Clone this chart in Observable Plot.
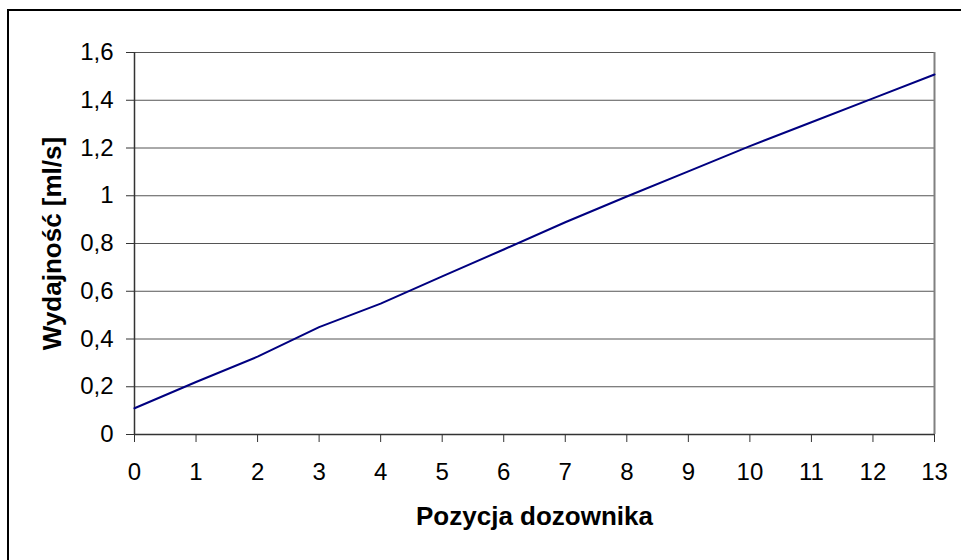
<!DOCTYPE html>
<html>
<head>
<meta charset="utf-8">
<script src="https://cdn.jsdelivr.net/npm/d3@7"></script>
<script src="https://cdn.jsdelivr.net/npm/@observablehq/plot@0.6"></script>
<style>
  html, body { margin: 0; padding: 0; background: #fff; }
</style>
</head>
<body>
<div id="chart"></div>
<script>
const positions = [0, 1, 2, 3, 4, 5, 6, 7, 8, 9, 10, 11, 12, 13];
const flowRates = [0.11, 0.22, 0.326, 0.45, 0.548, 0.662, 0.775, 0.889, 0.997, 1.102, 1.208, 1.308, 1.408, 1.508];
const yTicks = [0, 0.2, 0.4, 0.6, 0.8, 1, 1.2, 1.4, 1.6];
const xTicks = [0, 1, 2, 3, 4, 5, 6, 7, 8, 9, 10, 11, 12, 13];
const xTitle = "Pozycja dozownika";
const yTitle = "Wydajność [ml/s]";

const data = positions.map((p, i) => ({x: p, y: flowRates[i]}));
const fmt = d => String(d).replace(".", ",");

const chart = Plot.plot({
  width: 961,
  height: 560,
  marginLeft: 134,
  marginRight: 27,
  marginTop: 52,
  marginBottom: 126,
  style: {fontFamily: "'Liberation Sans', Arial, sans-serif", background: "#fff", color: "#000"},
  x: {domain: [0, 13]},
  y: {domain: [0, 1.6]},
  marks: [
    Plot.ruleY(yTicks.filter(d => d > 0), {stroke: "#555", strokeWidth: 1}),
    Plot.ruleX([13], {stroke: "#808080", strokeWidth: 2}),
    Plot.ruleX([0], {stroke: "#333", strokeWidth: 1.5}),
    Plot.ruleY([0], {stroke: "#333", strokeWidth: 1.5}),
    Plot.axisY({ticks: yTicks, tickFormat: fmt, tickSize: 8, tickPadding: 13, fontSize: 24, stroke: "#333", fill: "#000", label: null}),
    Plot.axisX({ticks: xTicks, tickFormat: fmt, tickSize: 8, tickPadding: 20, fontSize: 24, stroke: "#333", fill: "#000", label: null}),
    Plot.line(data, {x: "x", y: "y", stroke: "#000080", strokeWidth: 2}),
    Plot.text([xTitle], {frameAnchor: "bottom", dy: 82, lineAnchor: "middle", textAnchor: "middle", fontWeight: "bold", fontSize: 26, fill: "#000"}),
    Plot.text([yTitle], {frameAnchor: "left", dx: -82, rotate: -90, lineAnchor: "middle", textAnchor: "middle", fontWeight: "bold", fontSize: 26, fill: "#000"})
  ]
});

d3.select(chart).append("rect")
  .attr("x", 8).attr("y", 10)
  .attr("width", 980).attr("height", 600)
  .attr("fill", "none").attr("stroke", "#000").attr("stroke-width", 2);

document.getElementById("chart").appendChild(chart);
</script>
</body>
</html>
